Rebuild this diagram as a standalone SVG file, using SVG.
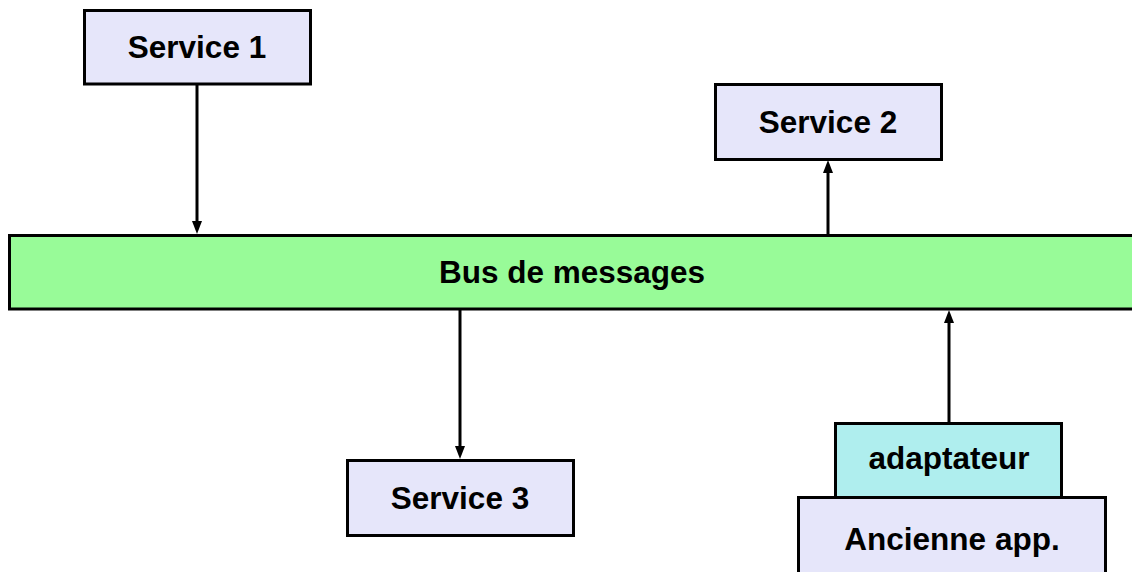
<svg xmlns="http://www.w3.org/2000/svg" width="1132" height="572" viewBox="0 0 1132 572">
<defs>
<marker id="ah" markerWidth="13" markerHeight="10" refX="0" refY="5" orient="auto" markerUnits="userSpaceOnUse" viewBox="0 0 13 10">
<path d="M0,0 L13,5 L0,10 Z" fill="#000"/>
</marker>
</defs>
<style>
.box{stroke:#000;stroke-width:3}
.svc{fill:#e6e6fa}
.bus{fill:#98fb98}
.ad{fill:#afeeee}
text{font-family:"Liberation Sans",Arial,sans-serif;font-weight:bold;font-size:31.5px;fill:#000;text-anchor:middle}
.c{stroke:#000;stroke-width:3;fill:none;marker-end:url(#ah)}
</style>
<rect width="1132" height="572" fill="#fff"/>
<g id="bus"><rect class="box bus" x="9.5" y="235.5" width="1140" height="73.5"/><text x="572" y="283">Bus de messages</text></g>
<g id="service1"><rect class="box svc" x="84.5" y="10.5" width="226" height="73.5"/><text x="197" y="58">Service 1</text></g>
<g id="service2"><rect class="box svc" x="715.5" y="84.5" width="226" height="75"/><text x="828" y="133">Service 2</text></g>
<g id="service3"><rect class="box svc" x="347.5" y="460.5" width="226" height="75"/><text x="460" y="509">Service 3</text></g>
<g id="ancienne"><rect class="box svc" x="798.5" y="497.5" width="307" height="90"/><text x="952" y="550">Ancienne app.</text></g>
<g id="adaptateur"><rect class="box ad" x="835.5" y="423.5" width="226" height="74"/><text x="949" y="469">adaptateur</text></g>
<g id="connectors">
<line class="c" x1="197" y1="84" x2="197" y2="221"/>
<line class="c" x1="828" y1="235" x2="828" y2="173"/>
<line class="c" x1="460" y1="310" x2="460" y2="446"/>
<line class="c" x1="949" y1="422" x2="949" y2="323"/>
</g>
</svg>
